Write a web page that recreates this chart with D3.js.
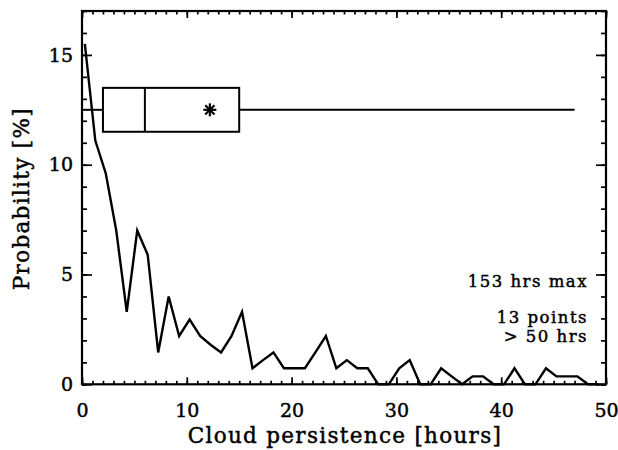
<!DOCTYPE html>
<html>
<head>
<meta charset="utf-8">
<script src="https://cdn.jsdelivr.net/npm/d3@7/dist/d3.min.js"></script>
<style>
  html, body { margin: 0; padding: 0; background: #fff; }
  svg { display: block; }
  text { font-family: "DejaVu Serif", serif; fill: #000; stroke: #000; stroke-width: 0.45px; }
</style>
</head>
<body>
<script>
// Histogram of cloud persistence (bin centres in hours, probability in %)
const hours = [0.27, 1.27, 2.27, 3.27, 4.27, 5.27, 6.27, 7.27, 8.27, 9.27,
  10.27, 11.27, 12.27, 13.27, 14.27, 15.27, 16.27, 17.27, 18.27, 19.27,
  20.27, 21.27, 22.27, 23.27, 24.27, 25.27, 26.27, 27.27, 28.27, 29.27,
  30.27, 31.27, 32.27, 33.27, 34.27, 35.27, 36.27, 37.27, 38.27, 39.27,
  40.27, 41.27, 42.27, 43.27, 44.27, 45.27, 46.27, 47.27, 48.27, 49.27];
const probability = [15.5, 11.1, 9.6, 7.0, 3.3, 7.0, 5.9, 1.45, 4.0, 2.2,
  2.95, 2.2, 1.8, 1.45, 2.2, 3.3, 0.73, 1.1, 1.45, 0.73,
  0.73, 0.73, 1.45, 2.2, 0.73, 1.1, 0.73, 0.73, 0, 0,
  0.73, 1.1, 0, 0, 0.73, 0.36, 0, 0.36, 0.36, 0,
  0, 0.73, 0, 0, 0.73, 0.36, 0.36, 0.36, 0, 0];

// Box-and-whisker summary drawn across the top of the plot
const whisker = [0, 47];
const quartiles = [2, 15];
const median = [6];
const mean = [12.2];
const boxLevel = [12.5];
const boxHalfHeight = [1];

const xTicks = [0, 10, 20, 30, 40, 50];
const yTicks = [0, 5, 10, 15];
const xDomain = [0, 50];
const yDomain = [0, 17];

const notes = ["153 hrs max", "13 points", "> 50 hrs"];
const xTitle = "Cloud persistence [hours]";
const yTitle = "Probability [%]";

const W = 618, H = 450;
const padL = 82, padR = 606, padT = 11, padB = 384.3;

const svg = d3.select("body").append("svg").attr("width", W).attr("height", H);
svg.append("rect").attr("width", W).attr("height", H).attr("fill", "#fff").attr("stroke", "none");

const x = d3.scaleLinear().domain(xDomain).range([padL, padR]);
const y = d3.scaleLinear().domain(yDomain).range([padB, padT]);

const minorX = d3.range(xDomain[0], xDomain[1] + 1, 1);
const minorY = d3.range(yDomain[0], yDomain[1] + 1, 1);

function styleAxis(g) {
  g.select(".domain").remove();
  g.selectAll("line").attr("stroke", "#000").attr("stroke-width", 1.7);
  g.selectAll("text").style("font-family", "DejaVu Serif").style("font-size", "19px");
}

// minor ticks on all four sides
svg.append("g").attr("transform", `translate(0,${padB})`)
  .call(d3.axisBottom(x).tickValues(minorX).tickSize(-3.5).tickFormat(""))
  .call(styleAxis);
svg.append("g").attr("transform", `translate(0,${padT})`)
  .call(d3.axisTop(x).tickValues(minorX).tickSize(-3.5).tickFormat(""))
  .call(styleAxis);
svg.append("g").attr("transform", `translate(${padL},0)`)
  .call(d3.axisLeft(y).tickValues(minorY).tickSize(-5).tickFormat(""))
  .call(styleAxis);
svg.append("g").attr("transform", `translate(${padR},0)`)
  .call(d3.axisRight(y).tickValues(minorY).tickSize(-5).tickFormat(""))
  .call(styleAxis);

// major ticks with labels
svg.append("g").attr("transform", `translate(0,${padB})`)
  .call(d3.axisBottom(x).tickValues(xTicks).tickSizeInner(-7).tickSizeOuter(0).tickPadding(19).tickFormat(d3.format("d")))
  .call(styleAxis);
svg.append("g").attr("transform", `translate(0,${padT})`)
  .call(d3.axisTop(x).tickValues(xTicks).tickSizeInner(-7).tickSizeOuter(0).tickFormat(""))
  .call(styleAxis);
svg.append("g").attr("transform", `translate(${padL},0)`)
  .call(d3.axisLeft(y).tickValues(yTicks).tickSizeInner(-10).tickSizeOuter(0).tickPadding(9).tickFormat(d3.format("d")))
  .call(styleAxis);
svg.append("g").attr("transform", `translate(${padR},0)`)
  .call(d3.axisRight(y).tickValues(yTicks).tickSizeInner(-10).tickSizeOuter(0).tickFormat(""))
  .call(styleAxis);

// plot frame
svg.append("rect")
  .attr("x", padL).attr("y", padT)
  .attr("width", padR - padL).attr("height", padB - padT)
  .attr("fill", "none").attr("stroke", "#000").attr("stroke-width", 2.2);

// histogram line
const line = d3.line().x((d, i) => x(hours[i])).y(d => y(d));
svg.append("path")
  .datum(probability)
  .attr("d", line)
  .attr("fill", "none")
  .attr("stroke", "#000")
  .attr("stroke-width", 2.4)
  .attr("stroke-linejoin", "miter");

// box plot
const bp = svg.append("g").attr("stroke", "#000").attr("stroke-width", 2).attr("fill", "none");
const yc = boxLevel[0], hh = boxHalfHeight[0];
bp.append("line").attr("x1", x(whisker[0])).attr("x2", x(quartiles[0])).attr("y1", y(yc)).attr("y2", y(yc));
bp.append("line").attr("x1", x(quartiles[1])).attr("x2", x(whisker[1])).attr("y1", y(yc)).attr("y2", y(yc));
bp.append("rect")
  .attr("x", x(quartiles[0])).attr("y", y(yc + hh))
  .attr("width", x(quartiles[1]) - x(quartiles[0]))
  .attr("height", y(yc - hh) - y(yc + hh));
bp.append("line").attr("x1", x(median[0])).attr("x2", x(median[0])).attr("y1", y(yc + hh)).attr("y2", y(yc - hh));

// mean marker: asterisk
const r = 6.5;
const arms = [0, 45, 90, 135];
const star = svg.append("g").attr("transform", `translate(${x(mean[0])},${y(yc)})`);
arms.forEach(a => {
  const t = a * Math.PI / 180;
  star.append("line")
    .attr("x1", -r * Math.cos(t)).attr("y1", -r * Math.sin(t))
    .attr("x2", r * Math.cos(t)).attr("y2", r * Math.sin(t))
    .attr("stroke", "#000").attr("stroke-width", 2.2);
});

// annotations
const noteG = svg.append("g").attr("text-anchor", "end")
  .style("font-size", "16.5px").style("letter-spacing", "1.5px");
noteG.append("text").attr("x", 588).attr("y", 287).text(notes[0]);
noteG.append("text").attr("x", 588).attr("y", 323).text(notes[1]);
noteG.append("text").attr("x", 588).attr("y", 342).text(notes[2]);

// axis titles
svg.append("text")
  .attr("x", (padL + padR) / 2 + 1).attr("y", 443)
  .attr("text-anchor", "middle")
  .style("font-size", "21.5px").style("letter-spacing", "1.3px")
  .text(xTitle);
svg.append("text")
  .attr("transform", `translate(29,${(padT + padB) / 2 + 1}) rotate(-90)`)
  .attr("text-anchor", "middle")
  .style("font-size", "21.5px").style("letter-spacing", "1.3px")
  .text(yTitle);
</script>
</body>
</html>
